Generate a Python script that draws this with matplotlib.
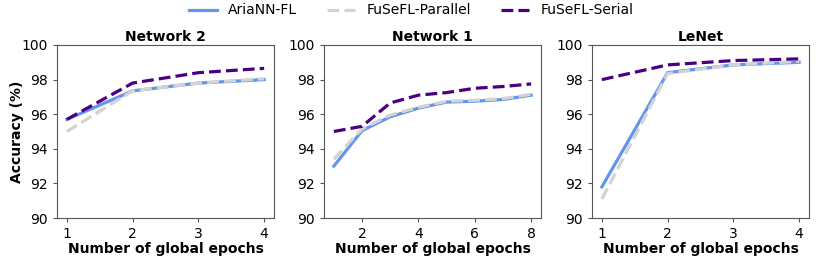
import matplotlib
matplotlib.use("Agg")
import matplotlib.pyplot as plt

# accuracy (%) per global epoch
net2_epochs = [1, 2, 3, 4]
net2_aria = [95.7, 97.35, 97.8, 98.0]
net2_parallel = [95.0, 97.35, 97.8, 98.05]
net2_serial = [95.7, 97.8, 98.4, 98.65]

net1_epochs = [1, 2, 3, 4, 5, 6, 7, 8]
net1_aria = [93.0, 95.05, 95.85, 96.35, 96.7, 96.75, 96.85, 97.1]
net1_parallel = [93.4, 95.15, 95.95, 96.4, 96.75, 96.8, 96.9, 97.15]
net1_serial = [95.0, 95.3, 96.65, 97.1, 97.25, 97.5, 97.6, 97.75]

lenet_epochs = [1, 2, 3, 4]
lenet_aria = [91.8, 98.4, 98.85, 99.0]
lenet_parallel = [91.1, 98.35, 98.85, 99.05]
lenet_serial = [98.0, 98.85, 99.1, 99.2]

titles = ["Network 2", "Network 1", "LeNet"]
panels = [
    (net2_epochs, net2_aria, net2_parallel, net2_serial),
    (net1_epochs, net1_aria, net1_parallel, net1_serial),
    (lenet_epochs, lenet_aria, lenet_parallel, lenet_serial),
]

fig = plt.figure(figsize=(8.22, 2.61), dpi=100)
W, H = 822, 261
lefts = [57, 324, 592]
width = 217
top, bottom = 45, 218

for i, (x, aria, par, ser) in enumerate(panels):
    ax = fig.add_axes([lefts[i] / W, 1 - bottom / H, width / W, (bottom - top) / H])
    ax.plot(x, aria, color="cornflowerblue", lw=2.3, label="AriaNN-FL")
    ax.plot(x, par, color="lightgray", lw=2.3, ls="--", label="FuSeFL-Parallel")
    ax.plot(x, ser, color="indigo", lw=2.3, ls="--", label="FuSeFL-Serial")
    ax.set_ylim(90, 100)
    ax.set_yticks([90, 92, 94, 96, 98, 100])
    if len(x) > 4:
        ax.set_xticks([2, 4, 6, 8])
    else:
        ax.set_xticks(x)
    ax.tick_params(labelsize=10, length=3, color="#555555")
    for s in ax.spines.values():
        s.set_color("#555555")
    ax.set_title(titles[i], fontsize=10, fontweight="bold", pad=3)
    ax.set_xlabel("Number of global epochs", fontsize=10, fontweight="bold", labelpad=1)
    if i == 0:
        ax.set_ylabel("Accuracy (%)", fontsize=10, fontweight="bold", labelpad=-2)
        handles, labels = ax.get_legend_handles_labels()

fig.legend(handles, labels, loc="upper center", ncol=3, frameon=False,
           fontsize=10, bbox_to_anchor=(0.5, 1.035), columnspacing=2.2)

fig.savefig("out.png", dpi=100)
